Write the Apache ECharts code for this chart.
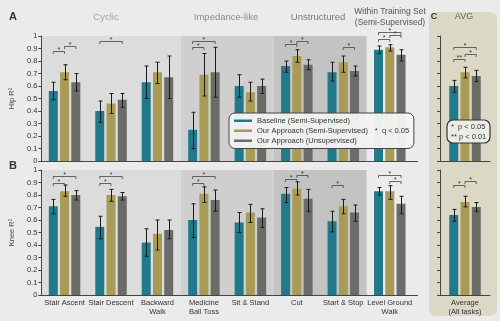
<!DOCTYPE html>
<html><head><meta charset="utf-8">
<script src="https://cdn.jsdelivr.net/npm/echarts@6/dist/echarts.min.js"></script>
<style>html,body{margin:0;padding:0;background:#ebebeb}#c{width:500px;height:321px}</style>
</head><body><div id="c"></div>
<script>
// ---------- DATA ----------
const categories = ['Stair Ascent','Stair Descent','Backward\nWalk','Medicine\nBall Toss','Sit & Stand','Cut','Start & Stop','Level Ground\nWalk'];
const avgCategories = ['Average\n(All tasks)'];
const seriesNames = ['Baseline (Semi-Supervised)','Our Approach (Semi-Supervised)','Our Approach (Unsupervised)'];
const groupTitles = ['Cyclic','Impedance-like','Unstructured','Within Training Set\n(Semi-Supervised)'];
const groupBands = [[0,2],[3,4],[5,6]];   // category index ranges of shaded groups

// Hip R² (panel A)
const hipBaseline     = [0.56,0.40,0.63,0.25,0.60,0.76,0.71,0.89];
const hipBaselineLow  = [0.49,0.31,0.50,0.10,0.51,0.71,0.64,0.86];
const hipBaselineHigh = [0.63,0.48,0.76,0.39,0.69,0.80,0.79,0.92];
const hipOursSS       = [0.71,0.46,0.71,0.69,0.55,0.84,0.79,0.91];
const hipOursSSLow    = [0.65,0.38,0.62,0.52,0.48,0.79,0.71,0.88];
const hipOursSSHigh   = [0.77,0.54,0.79,0.86,0.63,0.89,0.84,0.93];
const hipOursUS       = [0.63,0.49,0.67,0.71,0.60,0.77,0.72,0.85];
const hipOursUSLow    = [0.56,0.43,0.50,0.51,0.54,0.73,0.68,0.80];
const hipOursUSHigh   = [0.70,0.54,0.84,0.91,0.655,0.81,0.76,0.89];

// Knee R² (panel B)
const kneeBaseline     = [0.71,0.545,0.42,0.60,0.58,0.81,0.59,0.83];
const kneeBaselineLow  = [0.65,0.45,0.31,0.46,0.50,0.74,0.505,0.80];
const kneeBaselineHigh = [0.765,0.63,0.53,0.73,0.66,0.86,0.67,0.86];
const kneeOursSS       = [0.83,0.80,0.49,0.81,0.66,0.85,0.71,0.83];
const kneeOursSSLow    = [0.79,0.75,0.36,0.74,0.58,0.80,0.65,0.765];
const kneeOursSSHigh   = [0.88,0.845,0.60,0.865,0.725,0.905,0.765,0.875];
const kneeOursUS       = [0.80,0.79,0.52,0.76,0.62,0.77,0.66,0.73];
const kneeOursUSLow    = [0.76,0.76,0.45,0.67,0.54,0.67,0.59,0.65];
const kneeOursUSHigh   = [0.835,0.82,0.60,0.84,0.69,0.845,0.72,0.79];

// Averages (panel C): [baseline, oursSS, oursUS]
const avgHip      = [0.60,0.71,0.68];
const avgHipLow   = [0.55,0.665,0.635];
const avgHipHigh  = [0.645,0.75,0.725];
const avgKnee     = [0.64,0.745,0.705];
const avgKneeLow  = [0.59,0.705,0.67];
const avgKneeHigh = [0.685,0.79,0.74];

// Significance brackets: [category, fromSeries, toSeries, level, label]
const hipSig = [[0,0,1,0.88,'*'],[0,1,2,0.92,'*'],[1,0,2,0.96,'*'],[3,0,1,0.91,'*'],[3,0,2,0.96,'*'],
                [5,0,1,0.94,'*'],[5,1,2,0.96,'*'],[6,1,2,0.915,'*'],[7,0,1,0.98,'*'],[7,1,2,1.01,'*'],[7,0,2,1.035,'*']];
const kneeSig = [[0,0,1,0.90,'*'],[0,0,2,0.95,'*'],[1,0,1,0.90,'*'],[1,0,2,0.95,'*'],[3,0,1,0.90,'*'],[3,0,2,0.95,'*'],
                 [5,0,1,0.93,'*'],[5,1,2,0.96,'*'],[6,0,1,0.88,'*'],[7,1,2,0.91,'*'],[7,0,2,0.96,'*']];
const avgHipSig = [[0,0,1,0.816,'**'],[0,1,2,0.858,'*'],[0,0,2,0.91,'*']];
const avgKneeSig = [[0,0,1,0.88,'*'],[0,1,2,0.91,'*']];

// ---------- STYLE ----------
const COLORS = ['#217a8b','#a89b56','#6b6b68'];
const BAND_COLORS = ['#dcdcdc','#cfcfcf','#c3c3c3'];
const FONT = 'Liberation Sans, Arial, sans-serif';
const BAR_W = 9, BAR_GAP = 0.25;

const chart = echarts.init(document.getElementById('c'), null, {renderer:'canvas'});

function errorRender(params, api){
  const i = api.value(0), lo = api.value(1), hi = api.value(2), s = api.value(3);
  const off = (s-1)*BAR_W*(1+BAR_GAP);
  const p1 = api.coord([i, hi]), p2 = api.coord([i, lo]);
  const x = Math.round(p1[0]+off)+0.5, cap = 2;
  const st = {stroke:'#1a1a1a', lineWidth:1};
  return {type:'group', children:[
    {type:'line', shape:{x1:x,y1:p1[1],x2:x,y2:p2[1]}, style:st},
    {type:'line', shape:{x1:x-cap,y1:p1[1],x2:x+cap,y2:p1[1]}, style:st},
    {type:'line', shape:{x1:x-cap,y1:p2[1],x2:x+cap,y2:p2[1]}, style:st}]};
}
function makeSigRender(src){
  return function(params, api){
    const d = src[params.dataIndex];
    const base = api.coord([d[0], d[3]]);
    const xa = base[0] + (d[1]-1)*BAR_W*(1+BAR_GAP);
    const xb = base[0] + (d[2]-1)*BAR_W*(1+BAR_GAP);
    const y = Math.round(base[1])+0.5;
    return {type:'group', children:[
      {type:'polyline', shape:{points:[[xa,y+2.5],[xa,y],[xb,y],[xb,y+2.5]]}, style:{stroke:'#444',lineWidth:0.8,fill:null}},
      {type:'text', style:{text:d[4], x:(xa+xb)/2, y:y+2.5, align:'center', verticalAlign:'bottom', font:'7px '+FONT, fill:'#333'}}]};
  };
}
function bandRender(params, api){
  const s = api.value(0), e = api.value(1);
  const w = api.size([1,0])[0];
  const p0 = api.coord([s,1]), p1 = api.coord([e,0]);
  return {type:'rect', shape:{x:p0[0]-w/2, y:p0[1], width:(p1[0]+w/2)-(p0[0]-w/2), height:p1[1]-p0[1]},
          style:{fill:BAND_COLORS[params.dataIndex]}};
}

const grids = [
  {left:37, top:36, width:376, height:125},
  {left:37, top:170, width:376, height:125},
  {left:440, top:36, width:50, height:125},
  {left:440, top:170, width:50, height:125}
];
const axisCol = '#444';
const xAxes = grids.map((g,gi)=>({
  type:'category', gridIndex:gi, data: gi<2 ? categories : avgCategories, z:5,
  axisLine:{lineStyle:{color:axisCol,width:1}},
  axisTick:{alignWithLabel:true, inside:true, length:2, lineStyle:{color:'#333'}},
  axisLabel:{show: gi===1 || gi===3, color:'#333', fontSize:7.5, fontFamily:FONT, lineHeight:9, margin:3, interval:0}
}));
const yAxes = grids.map((g,gi)=>({
  type:'value', gridIndex:gi, min:0, max:1, interval:0.1, z:5,
  name: gi===0 ? 'Hip R²' : (gi===1 ? 'Knee R²' : ''), nameLocation:'middle', nameGap:15,
  nameTextStyle:{color:'#444', fontSize:7.5, fontFamily:FONT},
  splitLine:{show:false},
  axisLine:{show:true, lineStyle:{color:axisCol,width:1}},
  axisTick:{show:true, length:3, lineStyle:{color:axisCol}},
  axisLabel:{show: gi<2, color:'#333', fontSize:7.5, fontFamily:FONT, margin:4}
}));

const panelData = [
  {means:[hipBaseline,hipOursSS,hipOursUS], lows:[hipBaselineLow,hipOursSSLow,hipOursUSLow], highs:[hipBaselineHigh,hipOursSSHigh,hipOursUSHigh], sig:hipSig, bands:true},
  {means:[kneeBaseline,kneeOursSS,kneeOursUS], lows:[kneeBaselineLow,kneeOursSSLow,kneeOursUSLow], highs:[kneeBaselineHigh,kneeOursSSHigh,kneeOursUSHigh], sig:kneeSig, bands:true},
  {means:[[avgHip[0]],[avgHip[1]],[avgHip[2]]], lows:[[avgHipLow[0]],[avgHipLow[1]],[avgHipLow[2]]], highs:[[avgHipHigh[0]],[avgHipHigh[1]],[avgHipHigh[2]]], sig:avgHipSig, bands:false},
  {means:[[avgKnee[0]],[avgKnee[1]],[avgKnee[2]]], lows:[[avgKneeLow[0]],[avgKneeLow[1]],[avgKneeLow[2]]], highs:[[avgKneeHigh[0]],[avgKneeHigh[1]],[avgKneeHigh[2]]], sig:avgKneeSig, bands:false}
];

const series = [];
panelData.forEach((pd,gi)=>{
  if(pd.bands){
    series.push({type:'custom', xAxisIndex:gi, yAxisIndex:gi, z:1, silent:true, renderItem:bandRender,
      encode:{x:[0,1]}, data:groupBands});
  }
  for(let s=0;s<3;s++){
    series.push({type:'bar', name:seriesNames[s], xAxisIndex:gi, yAxisIndex:gi, z:2,
      barWidth:BAR_W, barGap:(BAR_GAP*100)+'%', itemStyle:{color:COLORS[s]}, data:pd.means[s]});
  }
  const err = [];
  for(let s=0;s<3;s++) pd.lows[s].forEach((lo,i)=>err.push([i, lo, pd.highs[s][i], s]));
  series.push({type:'custom', xAxisIndex:gi, yAxisIndex:gi, z:3, renderItem:errorRender, encode:{x:0,y:[1,2]}, data:err});
  series.push({type:'custom', xAxisIndex:gi, yAxisIndex:gi, z:3, renderItem:makeSigRender(pd.sig), encode:{x:0,y:3},
    data:pd.sig.map(d=>[d[0],d[1],d[2],d[3]])});
});

function txt(text,x,y,opt){
  return Object.assign({type:'text', x:x, y:y, z:10, style:Object.assign({text:text, fill:'#555', font:'9.5px '+FONT, textAlign:'center', textVerticalAlign:'middle'}, opt||{})});
}

const option = {
  backgroundColor:'#ebebeb',
  animation:false,
  grid:grids, xAxis:xAxes, yAxis:yAxes, series:series,
  legend:{
    data:seriesNames, orient:'vertical', left:229, top:113, icon:'rect', itemWidth:18, itemHeight:2.5, itemGap:0.5,
    textStyle:{fontSize:7.5, fontFamily:FONT, color:'#333', lineHeight:9.5},
    backgroundColor:'rgba(243,243,243,0.97)', borderColor:'#444', borderWidth:1, borderRadius:6,
    padding:[3,46,3,5], selectedMode:false, z:8
  },
  graphic:[
    {type:'rect', z:-1, shape:{x:429, y:12, width:68, height:304, r:7}, style:{fill:'#dcd8c6'}},
    {type:'line', z:6, shape:{x1:413, y1:161.5, x2:418, y2:161.5}, style:{stroke:axisCol, lineWidth:1}},
    {type:'line', z:6, shape:{x1:413, y1:295.5, x2:418, y2:295.5}, style:{stroke:axisCol, lineWidth:1}},
    txt('A',13,17,{font:'bold 11px '+FONT, fill:'#333'}),
    txt('B',13,166,{font:'bold 11px '+FONT, fill:'#333'}),
    txt('C',434,17,{font:'bold 9px '+FONT, fill:'#333'}),
    txt(groupTitles[0],106,17,{fill:'#a3a3a3'}),
    txt(groupTitles[1],226,17,{fill:'#8c8c8c'}),
    txt(groupTitles[2],318,17,{fill:'#777'}),
    txt(groupTitles[3],390,17.5,{fill:'#555', font:'8.5px '+FONT, lineHeight:11}),
    txt('AVG',464,17,{fill:'#666', font:'9px '+FONT}),
    txt('*  q < 0.05',392,131,{fill:'#333', font:'7.5px '+FONT}),
    {type:'rect', z:10, shape:{x:447, y:120, width:43, height:23, r:6}, style:{fill:'rgba(240,239,234,0.97)', stroke:'#333', lineWidth:1.2}},
    {type:'text', z:11, x:451, y:127, style:{text:'*  p < 0.05', fill:'#333', font:'7.5px '+FONT, textVerticalAlign:'middle'}},
    {type:'text', z:11, x:451, y:137, style:{text:'** p < 0.01', fill:'#333', font:'7.5px '+FONT, textVerticalAlign:'middle'}}
  ]
};
chart.setOption(option);
</script></body></html>
